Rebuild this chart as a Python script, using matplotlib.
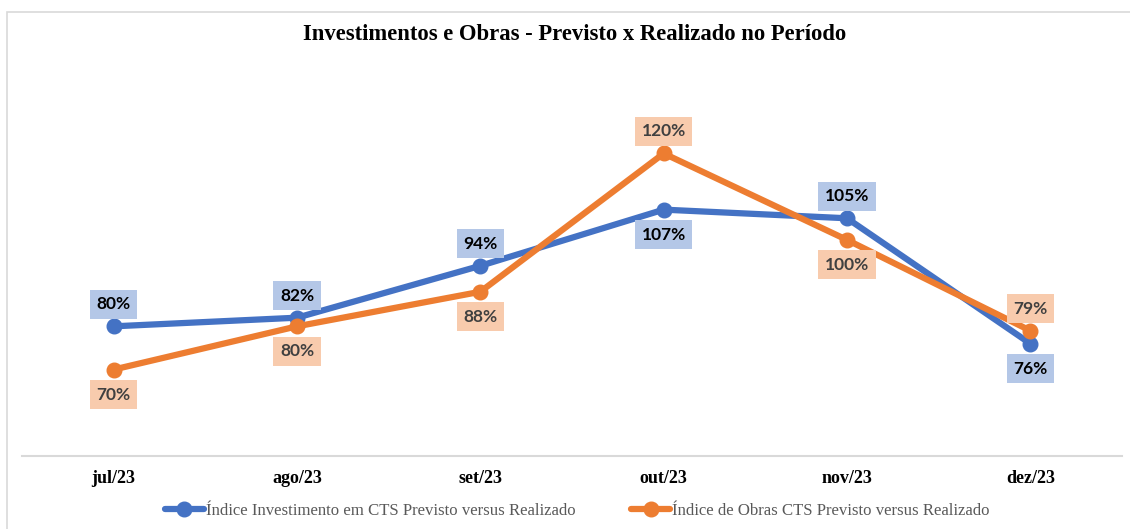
import matplotlib
matplotlib.use("Agg")
import matplotlib.pyplot as plt
from matplotlib.patches import Rectangle

# chart data
months = ["jul/23", "ago/23", "set/23", "out/23", "nov/23", "dez/23"]
investimento = [80, 82, 94, 107, 105, 76]
obras = [70, 80, 88, 120, 100, 79]
investimento_above = [True, True, True, False, True, False]
obras_above = [False, False, False, True, False, True]

BLUE = "#4472c4"
ORANGE = "#ed7d31"
BLUE_BOX = "#b4c7e7"
ORANGE_BOX = "#f8cbad"
SERIF = "Liberation Serif"
LABEL_FONT = "Lato"

fig = plt.figure(figsize=(11.3, 5.29), dpi=100)
W, H = 1130, 529

# light chart-area border
fig.patches.append(Rectangle((7 / W, -0.05), 1.1, 1 - 12 / H + 0.05,
                             transform=fig.transFigure, fill=False,
                             edgecolor="#d9d9d9", linewidth=1.2))

ax = fig.add_axes([22 / W, (H - 456) / H, 1100 / W, 389 / H])
x = list(range(len(months)))

ax.plot(x, investimento, color=BLUE, linewidth=4.5, marker="o", markersize=10.5,
        solid_capstyle="round", label="Índice Investimento em CTS Previsto versus Realizado",
        zorder=3)
ax.plot(x, obras, color=ORANGE, linewidth=4.5, marker="o", markersize=10.5,
        solid_capstyle="round", label="Índice de Obras CTS Previsto versus Realizado",
        zorder=3)


def add_labels(values, above, box_color, text_color):
    for i, (v, up) in enumerate(zip(values, above)):
        dy = 22 if up else -25
        ax.annotate(f"{v}%", (i, v), xytext=(0, dy), textcoords="offset pixels",
                    ha="center", va="center", fontsize=12.5, fontweight="bold",
                    family=LABEL_FONT, color=text_color, zorder=4,
                    bbox=dict(boxstyle="square,pad=0.38", facecolor=box_color,
                              edgecolor="none"))


add_labels(investimento, investimento_above, BLUE_BOX, "#000000")
add_labels(obras, obras_above, ORANGE_BOX, "#404040")

ax.set_xlim(-0.5, len(months) - 0.5)
ax.set_ylim(50, 140)
ax.set_xticks(x)
ax.set_xticklabels(months, fontsize=13, fontweight="bold", family=SERIF)
ax.tick_params(axis="x", length=0, pad=10)
ax.set_yticks([])
for side in ["left", "right", "top"]:
    ax.spines[side].set_visible(False)
ax.spines["bottom"].set_color("#d9d9d9")
ax.spines["bottom"].set_linewidth(1.5)

fig.text(575 / W, 1 - 35 / H, "Investimentos e Obras - Previsto x Realizado no Período",
         ha="center", va="center", fontsize=16.3, fontweight="bold", family=SERIF)

leg = fig.legend(loc="center", bbox_to_anchor=(577 / W, 1 - 511 / H), ncol=2,
                 frameon=False, prop={"family": SERIF, "size": 12.1},
                 handlelength=2.35, handletextpad=0.1, columnspacing=3.3)
for t in leg.get_texts():
    t.set_color("#595959")

fig.savefig("out.png", dpi=100)
